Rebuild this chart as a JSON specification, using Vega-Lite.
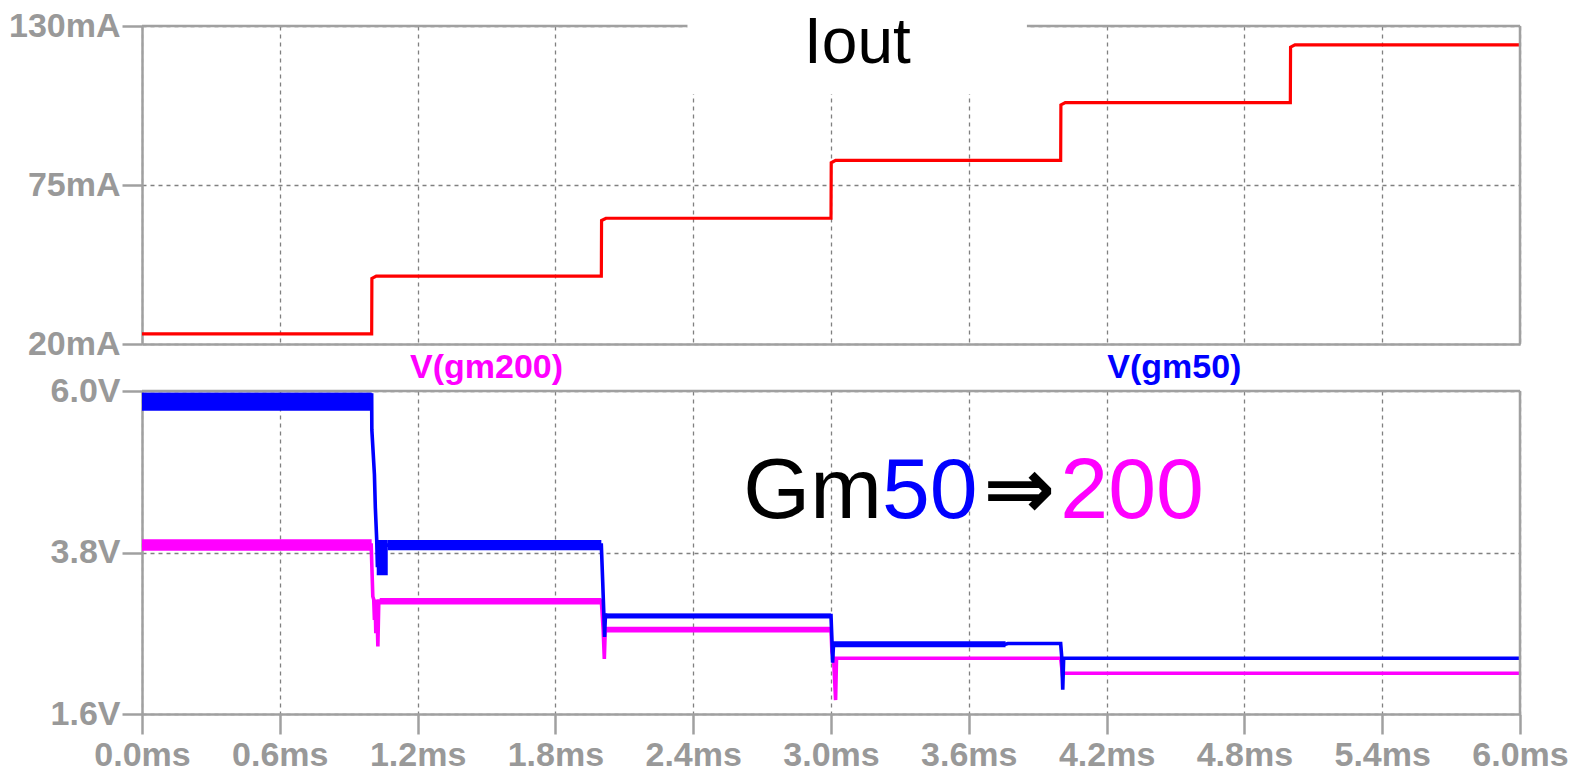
{
  "$schema": "https://vega.github.io/schema/vega-lite/v6.json",
  "background": "white",
  "padding": {"left": 8, "top": 9, "right": 5, "bottom": 2},
  "spacing": 47,
  "bounds": "flush",
  "config": {
    "view": {"stroke": null},
    "font": "Liberation Sans",
    "axis": {
      "domainColor": "#a0a0a0",
      "domainWidth": 2.5,
      "tickColor": "#a0a0a0",
      "tickWidth": 2.5,
      "tickSize": 20,
      "labelColor": "#999999",
      "labelFont": "Liberation Sans",
      "labelFontWeight": "bold",
      "labelFontSize": 34,
      "gridColor": "#808080",
      "gridDash": [4, 4],
      "gridWidth": 1.3,
      "gridOpacity": 1
    }
  },
  "datasets": {
    "one": [{}],
    "iout": [
      {"t": 0, "i": 23.5}, {"t": 1.0, "i": 23.5}, {"t": 1.001, "i": 42.7}, {"t": 1.02, "i": 43.5},
      {"t": 2.0, "i": 43.5}, {"t": 2.001, "i": 62.7}, {"t": 2.02, "i": 63.5},
      {"t": 3.0, "i": 63.5}, {"t": 3.001, "i": 82.7}, {"t": 3.02, "i": 83.5},
      {"t": 4.0, "i": 83.5}, {"t": 4.001, "i": 102.7}, {"t": 4.02, "i": 103.5},
      {"t": 5.0, "i": 103.5}, {"t": 5.001, "i": 122.7}, {"t": 5.02, "i": 123.5},
      {"t": 6.0, "i": 123.5}
    ],
    "vout": [
      {"series": "V(gm200)", "t": 0, "v": 3.9},
      {"series": "V(gm200)", "t": 0.998, "v": 3.9},
      {"series": "V(gm200)", "t": 1.001, "v": 3.6},
      {"series": "V(gm200)", "t": 1.005, "v": 3.2},
      {"series": "V(gm200)", "t": 1.009, "v": 3.16},
      {"series": "V(gm200)", "t": 1.012, "v": 2.88},
      {"series": "V(gm200)", "t": 1.015, "v": 3.16},
      {"series": "V(gm200)", "t": 1.018, "v": 2.7},
      {"series": "V(gm200)", "t": 1.022, "v": 3.16},
      {"series": "V(gm200)", "t": 1.027, "v": 2.52},
      {"series": "V(gm200)", "t": 1.031, "v": 3.14},
      {"series": "V(gm200)", "t": 1.04, "v": 3.14},
      {"series": "V(gm200)", "t": 2.0, "v": 3.14},
      {"series": "V(gm200)", "t": 2.004, "v": 2.95},
      {"series": "V(gm200)", "t": 2.008, "v": 2.75},
      {"series": "V(gm200)", "t": 2.013, "v": 2.35},
      {"series": "V(gm200)", "t": 2.017, "v": 2.75},
      {"series": "V(gm200)", "t": 2.03, "v": 2.75},
      {"series": "V(gm200)", "t": 3.0, "v": 2.75},
      {"series": "V(gm200)", "t": 3.004, "v": 2.45},
      {"series": "V(gm200)", "t": 3.012, "v": 2.32},
      {"series": "V(gm200)", "t": 3.02, "v": 1.79},
      {"series": "V(gm200)", "t": 3.024, "v": 2.36},
      {"series": "V(gm200)", "t": 4.0, "v": 2.36},
      {"series": "V(gm200)", "t": 4.004, "v": 2.25},
      {"series": "V(gm200)", "t": 4.008, "v": 2.13},
      {"series": "V(gm200)", "t": 4.012, "v": 2.155},
      {"series": "V(gm200)", "t": 6.0, "v": 2.155},
      {"series": "V(gm50)", "t": 0, "v": 5.855},
      {"series": "V(gm50)", "t": 0.998, "v": 5.855},
      {"series": "V(gm50)", "t": 1.0, "v": 5.97},
      {"series": "V(gm50)", "t": 1.0008, "v": 5.47},
      {"series": "V(gm50)", "t": 1.012, "v": 4.86},
      {"series": "V(gm50)", "t": 1.016, "v": 4.41},
      {"series": "V(gm50)", "t": 1.022, "v": 3.97},
      {"series": "V(gm50)", "t": 1.025, "v": 3.6},
      {"series": "V(gm50)", "t": 1.03, "v": 3.9},
      {"series": "V(gm50)", "t": 1.07, "v": 3.9},
      {"series": "V(gm50)", "t": 2.0, "v": 3.9},
      {"series": "V(gm50)", "t": 2.006, "v": 3.4},
      {"series": "V(gm50)", "t": 2.011, "v": 2.95},
      {"series": "V(gm50)", "t": 2.014, "v": 2.65},
      {"series": "V(gm50)", "t": 2.018, "v": 2.95},
      {"series": "V(gm50)", "t": 2.03, "v": 2.94},
      {"series": "V(gm50)", "t": 3.0, "v": 2.94},
      {"series": "V(gm50)", "t": 3.003, "v": 2.7},
      {"series": "V(gm50)", "t": 3.007, "v": 2.3},
      {"series": "V(gm50)", "t": 3.011, "v": 2.55},
      {"series": "V(gm50)", "t": 3.76, "v": 2.55},
      {"series": "V(gm50)", "t": 3.77, "v": 2.56},
      {"series": "V(gm50)", "t": 4.0, "v": 2.56},
      {"series": "V(gm50)", "t": 4.005, "v": 2.36},
      {"series": "V(gm50)", "t": 4.009, "v": 1.93},
      {"series": "V(gm50)", "t": 4.013, "v": 2.36},
      {"series": "V(gm50)", "t": 6.0, "v": 2.36}
    ],
    "ripple": [
      {"series": "V(gm200)", "seg": "m1", "t": 0, "lo": 3.825, "hi": 3.98},
      {"series": "V(gm200)", "seg": "m1", "t": 1.0, "lo": 3.825, "hi": 3.98},
      {"series": "V(gm200)", "seg": "m2", "t": 1.035, "lo": 3.09, "hi": 3.18},
      {"series": "V(gm200)", "seg": "m2", "t": 2.0, "lo": 3.09, "hi": 3.18},
      {"series": "V(gm200)", "seg": "m3", "t": 2.017, "lo": 2.71, "hi": 2.79},
      {"series": "V(gm200)", "seg": "m3", "t": 3.0, "lo": 2.71, "hi": 2.79},
      {"series": "V(gm50)", "seg": "b1", "t": 0, "lo": 5.73, "hi": 5.98},
      {"series": "V(gm50)", "seg": "b1", "t": 1.0, "lo": 5.73, "hi": 5.98},
      {"series": "V(gm50)", "seg": "b2", "t": 1.022, "lo": 3.49, "hi": 3.97},
      {"series": "V(gm50)", "seg": "b2", "t": 1.07, "lo": 3.49, "hi": 3.97},
      {"series": "V(gm50)", "seg": "b3", "t": 1.07, "lo": 3.83, "hi": 3.97},
      {"series": "V(gm50)", "seg": "b3", "t": 2.0, "lo": 3.83, "hi": 3.97},
      {"series": "V(gm50)", "seg": "b4", "t": 2.018, "lo": 2.9, "hi": 2.97},
      {"series": "V(gm50)", "seg": "b4", "t": 3.0, "lo": 2.9, "hi": 2.97},
      {"series": "V(gm50)", "seg": "b5", "t": 3.008, "lo": 2.51, "hi": 2.59},
      {"series": "V(gm50)", "seg": "b5", "t": 3.76, "lo": 2.51, "hi": 2.59}
    ]
  },
  "vconcat": [
    {
      "width": 1378,
      "height": 318,
      "layer": [
        {
          "data": {"name": "iout"},
          "mark": {"type": "line", "color": "#ff0000", "strokeWidth": 3.2},
          "encoding": {
            "x": {
              "field": "t", "type": "quantitative",
              "scale": {"domain": [0, 6], "nice": false, "zero": false},
              "axis": {
                "title": null, "labels": false, "ticks": false, "domain": true, "grid": true,
                "values": [0, 0.6, 1.2, 1.8, 2.4, 3.0, 3.6, 4.2, 4.8, 5.4, 6.0]
              }
            },
            "y": {
              "field": "i", "type": "quantitative",
              "scale": {"domain": [20, 130], "nice": false, "zero": false},
              "axis": {
                "title": null, "values": [20, 75, 130], "grid": true,
                "labelExpr": "datum.value + 'mA'", "labelPadding": 2
              }
            }
          }
        },
        {
          "data": {"name": "one"},
          "mark": {"type": "rule", "color": "#a0a0a0", "strokeWidth": 2.5},
          "encoding": {
            "x": {"datum": 0, "type": "quantitative"},
            "x2": {"datum": 6},
            "y": {"datum": 130, "type": "quantitative"}
          }
        },
        {
          "data": {"name": "one"},
          "mark": {"type": "rule", "color": "#a0a0a0", "strokeWidth": 2.5},
          "encoding": {
            "x": {"datum": 6, "type": "quantitative"},
            "y": {"datum": 20, "type": "quantitative"},
            "y2": {"datum": 130}
          }
        },
        {
          "data": {"name": "one"},
          "mark": {"type": "rect", "color": "white", "opacity": 1},
          "encoding": {
            "x": {"datum": 2.375, "type": "quantitative"},
            "x2": {"datum": 3.853},
            "y": {"datum": 106.5, "type": "quantitative"},
            "y2": {"datum": 131.5}
          }
        },
        {
          "data": {"name": "one"},
          "mark": {"type": "text", "text": "Iout", "font": "Liberation Sans", "fontSize": 64, "color": "black", "align": "center", "baseline": "alphabetic"},
          "encoding": {
            "x": {"datum": 3.115, "type": "quantitative"},
            "y": {"datum": 117.2, "type": "quantitative"}
          }
        }
      ]
    },
    {
      "width": 1378,
      "height": 323,
      "layer": [
        {
          "data": {"name": "ripple"},
          "transform": [{"filter": "datum.series === 'V(gm200)'"}],
          "mark": {"type": "area", "color": "#ff00ff", "opacity": 1},
          "encoding": {
            "x": {
              "field": "t", "type": "quantitative",
              "scale": {"domain": [0, 6], "nice": false, "zero": false},
              "axis": {
                "title": null, "grid": true, "labelPadding": 4, "labelFlush": false,
                "values": [0, 0.6, 1.2, 1.8, 2.4, 3.0, 3.6, 4.2, 4.8, 5.4, 6.0],
                "labelExpr": "format(datum.value, '.1f') + 'ms'"
              }
            },
            "y": {
              "field": "lo", "type": "quantitative",
              "scale": {"domain": [1.6, 6.0], "nice": false, "zero": false},
              "axis": {
                "title": null, "values": [1.6, 3.8, 6.0], "grid": true,
                "labelExpr": "format(datum.value, '.1f') + 'V'", "labelPadding": 2
              }
            },
            "y2": {"field": "hi"},
            "detail": {"field": "seg"}
          }
        },
        {
          "data": {"name": "vout"},
          "transform": [{"filter": "datum.series === 'V(gm200)'"}],
          "mark": {"type": "line", "color": "#ff00ff", "strokeWidth": 3.6},
          "encoding": {
            "x": {"field": "t", "type": "quantitative"},
            "y": {"field": "v", "type": "quantitative"}
          }
        },
        {
          "data": {"name": "ripple"},
          "transform": [{"filter": "datum.series === 'V(gm50)'"}],
          "mark": {"type": "area", "color": "#0000ff", "opacity": 1},
          "encoding": {
            "x": {"field": "t", "type": "quantitative"},
            "y": {"field": "lo", "type": "quantitative"},
            "y2": {"field": "hi"},
            "detail": {"field": "seg"}
          }
        },
        {
          "data": {"name": "vout"},
          "transform": [{"filter": "datum.series === 'V(gm50)'"}],
          "mark": {"type": "line", "color": "#0000ff", "strokeWidth": 3.6},
          "encoding": {
            "x": {"field": "t", "type": "quantitative"},
            "y": {"field": "v", "type": "quantitative"}
          }
        },
        {
          "data": {"name": "one"},
          "mark": {"type": "rule", "color": "#a0a0a0", "strokeWidth": 2.5},
          "encoding": {
            "x": {"datum": 0, "type": "quantitative"},
            "x2": {"datum": 6},
            "y": {"datum": 6.0, "type": "quantitative"}
          }
        },
        {
          "data": {"name": "one"},
          "mark": {"type": "rule", "color": "#a0a0a0", "strokeWidth": 2.5},
          "encoding": {
            "x": {"datum": 6, "type": "quantitative"},
            "y": {"datum": 1.6, "type": "quantitative"},
            "y2": {"datum": 6.0}
          }
        },
        {
          "data": {"name": "one"},
          "mark": {"type": "text", "text": "V(gm200)", "font": "Liberation Sans", "fontWeight": "bold", "fontSize": 34, "color": "#ff00ff", "align": "center", "baseline": "alphabetic"},
          "encoding": {
            "x": {"datum": 1.5, "type": "quantitative"},
            "y": {"datum": 6.177, "type": "quantitative"}
          }
        },
        {
          "data": {"name": "one"},
          "mark": {"type": "text", "text": "V(gm50)", "font": "Liberation Sans", "fontWeight": "bold", "fontSize": 34, "color": "#0000ff", "align": "center", "baseline": "alphabetic"},
          "encoding": {
            "x": {"datum": 4.495, "type": "quantitative"},
            "y": {"datum": 6.177, "type": "quantitative"}
          }
        },
        {
          "data": {"name": "one"},
          "mark": {"type": "text", "text": "Gm", "font": "Liberation Sans", "fontSize": 86, "color": "black", "align": "center", "baseline": "alphabetic"},
          "encoding": {
            "x": {"datum": 2.92, "type": "quantitative"},
            "y": {"datum": 4.266, "type": "quantitative"}
          }
        },
        {
          "data": {"name": "one"},
          "mark": {"type": "text", "text": "50", "font": "Liberation Sans", "fontSize": 86, "color": "#0000ff", "align": "center", "baseline": "alphabetic"},
          "encoding": {
            "x": {"datum": 3.43, "type": "quantitative"},
            "y": {"datum": 4.266, "type": "quantitative"}
          }
        },
        {
          "data": {"name": "one"},
          "mark": {"type": "text", "text": "⇒", "font": "DejaVu Sans", "fontWeight": "bold", "fontSize": 86, "color": "black", "align": "center", "baseline": "alphabetic"},
          "encoding": {
            "x": {"datum": 3.82, "type": "quantitative"},
            "y": {"datum": 4.266, "type": "quantitative"}
          }
        },
        {
          "data": {"name": "one"},
          "mark": {"type": "text", "text": "200", "font": "Liberation Sans", "fontSize": 86, "color": "#ff00ff", "align": "center", "baseline": "alphabetic"},
          "encoding": {
            "x": {"datum": 4.311, "type": "quantitative"},
            "y": {"datum": 4.266, "type": "quantitative"}
          }
        }
      ]
    }
  ]
}
